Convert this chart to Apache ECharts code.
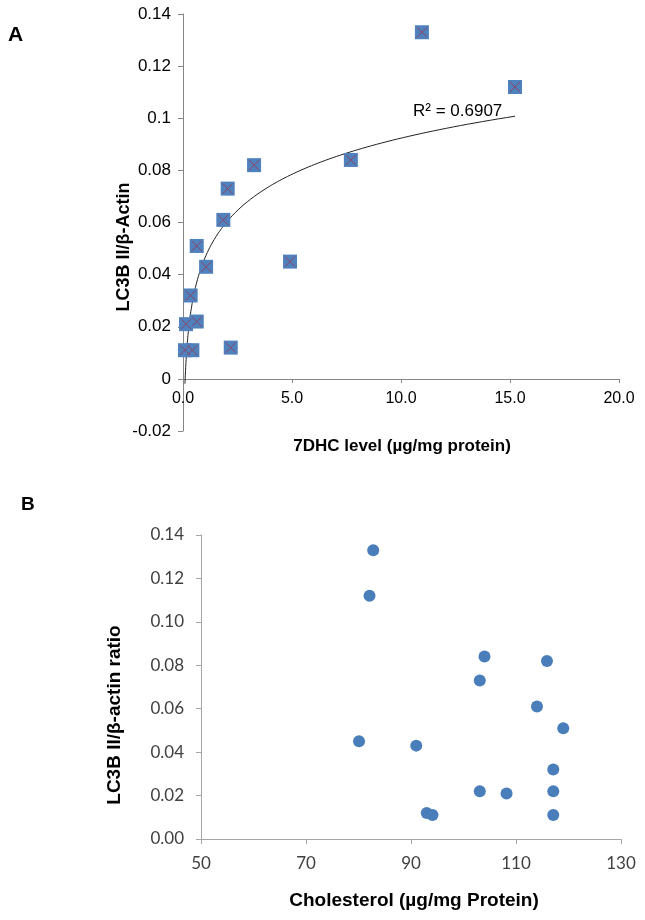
<!DOCTYPE html>
<html><head><meta charset="utf-8">
<script src="https://cdn.jsdelivr.net/npm/echarts@6/dist/echarts.min.js"></script>
<style>html,body{margin:0;padding:0;background:#fff}#c{width:645px;height:920px}</style>
</head><body><div id="c"></div>
<script>
// Panel A: 7DHC level vs LC3B II/beta-actin
const dhcLevel = [10.96, 15.23, 7.7, 3.26, 2.05, 1.85, 0.63, 1.06, 4.91, 0.35, 0.14, 0.63, 0.09, 0.43, 2.19];
const lc3bA    = [0.133, 0.112, 0.084, 0.082, 0.073, 0.061, 0.051, 0.043, 0.045, 0.032, 0.021, 0.022, 0.011, 0.011, 0.012];
// Panel B: cholesterol vs LC3B II/beta-actin ratio
const cholesterol = [82.8, 82.1, 104.0, 115.9, 103.1, 114.0, 119.0, 80.1, 91.0, 117.1, 103.1, 108.2, 117.1, 93.0, 94.1, 117.1];
const lc3bB       = [0.133, 0.112, 0.084, 0.082, 0.073, 0.061, 0.051, 0.045, 0.043, 0.032, 0.022, 0.021, 0.022, 0.012, 0.011, 0.011];
const r2Label = 'R² = 0.6907';

function logFit(xs, ys) {
  const lx = xs.map(Math.log);
  const n = xs.length;
  const mx = lx.reduce((s, v) => s + v, 0) / n;
  const my = ys.reduce((s, v) => s + v, 0) / n;
  let sxy = 0, sxx = 0;
  for (let i = 0; i < n; i++) { sxy += (lx[i] - mx) * (ys[i] - my); sxx += (lx[i] - mx) ** 2; }
  const a = sxy / sxx;
  return { a, b: my - a * mx };
}
const fit = logFit(dhcLevel, lc3bA);
const xMin = Math.min(...dhcLevel), xMax = Math.max(...dhcLevel);
const trend = [];
for (let i = 0; i <= 200; i++) {
  const x = xMin * Math.pow(xMax / xMin, i / 200);
  trend.push([x, fit.a * Math.log(x) + fit.b]);
}
const dataA = dhcLevel.map((x, i) => [x, lc3bA[i]]);
const dataB = cholesterol.map((x, i) => [x, lc3bB[i]]);

const arial = 'Liberation Sans, Arial, sans-serif';
const calibri = 'Lato, Open Sans, sans-serif';

const chart = echarts.init(document.getElementById('c'), null, { renderer: 'canvas' });
chart.setOption({
  animation: false,
  backgroundColor: '#fff',
  grid: [
    { left: 183, top: 14, width: 436, height: 417 },
    { left: 201, top: 535, width: 420, height: 304 }
  ],
  xAxis: [
    {
      gridIndex: 0, type: 'value', min: 0, max: 20, interval: 5, position: 'bottom', offset: -52,
      axisLine: { onZero: false, lineStyle: { color: '#868686', width: 1 } },
      axisTick: { show: true, inside: false, length: 4, lineStyle: { color: '#868686' } },
      axisLabel: { color: '#000', fontFamily: arial, fontSize: 16, margin: 12, formatter: v => v.toFixed(1) },
      splitLine: { show: false }
    },
    {
      gridIndex: 1, type: 'value', min: 50, max: 130, interval: 20,
      axisLine: { onZero: false, lineStyle: { color: '#a6a6a6', width: 1 } },
      axisTick: { show: true, length: 5, lineStyle: { color: '#a6a6a6' } },
      axisLabel: { color: '#404040', fontFamily: calibri, fontSize: 17, margin: 16 },
      splitLine: { show: false }
    }
  ],
  yAxis: [
    {
      gridIndex: 0, type: 'value', min: -0.02, max: 0.14, interval: 0.02,
      axisLine: { show: true, onZero: false, lineStyle: { color: '#868686', width: 1 } },
      axisTick: { show: true, length: 5, lineStyle: { color: '#868686' } },
      axisLabel: { color: '#000', fontFamily: arial, fontSize: 17, margin: 12,
        formatter: v => String(Math.round(v * 100) / 100) },
      splitLine: { show: false }
    },
    {
      gridIndex: 1, type: 'value', min: 0, max: 0.14, interval: 0.02,
      axisLine: { show: true, onZero: false, lineStyle: { color: '#a6a6a6', width: 1 } },
      axisTick: { show: true, length: 5, lineStyle: { color: '#a6a6a6' } },
      axisLabel: { color: '#404040', fontFamily: calibri, fontSize: 17, margin: 17, formatter: v => v.toFixed(2) },
      splitLine: { show: false }
    }
  ],
  series: [
    {
      type: 'line', xAxisIndex: 0, yAxisIndex: 0, data: trend, showSymbol: false, symbol: 'none',
      lineStyle: { color: '#222', width: 1 }, z: 3
    },
    {
      type: 'scatter', xAxisIndex: 0, yAxisIndex: 0, data: dataA, symbol: 'rect', symbolSize: 14,
      itemStyle: { color: '#4F81BD', opacity: 1 }, z: 4
    },
    {
      type: 'scatter', xAxisIndex: 0, yAxisIndex: 0, data: dataA,
      symbol: 'path://M0,0L10,10M10,0L0,10', symbolSize: 10,
      itemStyle: { color: 'rgba(0,0,0,0)', borderColor: '#8E4466', borderWidth: 1, opacity: 1 }, z: 5
    },
    {
      type: 'scatter', xAxisIndex: 1, yAxisIndex: 1, data: dataB, symbol: 'circle', symbolSize: 12,
      itemStyle: { color: '#4A7EBB', opacity: 1 }, z: 4
    }
  ],
  graphic: [
    { type: 'text', left: 8, top: 25, style: { text: 'A', font: 'bold 21px ' + arial, fill: '#000' } },
    { type: 'text', left: 21, top: 495, style: { text: 'B', font: 'bold 19px ' + arial, fill: '#000' } },
    { type: 'text', x: 124, y: 247, rotation: Math.PI / 2,
      style: { text: 'LC3B II/β-Actin', font: 'bold 18px ' + arial, fill: '#000', align: 'center', verticalAlign: 'middle' } },
    { type: 'text', x: 402, y: 446,
      style: { text: '7DHC level (µg/mg protein)', font: 'bold 17px ' + arial, fill: '#000', align: 'center', verticalAlign: 'middle' } },
    { type: 'text', x: 413, y: 111,
      style: { text: r2Label, font: '17px ' + arial, fill: '#000', align: 'left', verticalAlign: 'middle' } },
    { type: 'text', x: 115, y: 715, rotation: Math.PI / 2,
      style: { text: 'LC3B II/β-actin ratio', font: 'bold 19px ' + arial, fill: '#000', align: 'center', verticalAlign: 'middle' } },
    { type: 'text', x: 414, y: 901,
      style: { text: 'Cholesterol (µg/mg Protein)', font: 'bold 19px ' + arial, fill: '#000', align: 'center', verticalAlign: 'middle' } }
  ]
});
</script>
</body></html>
